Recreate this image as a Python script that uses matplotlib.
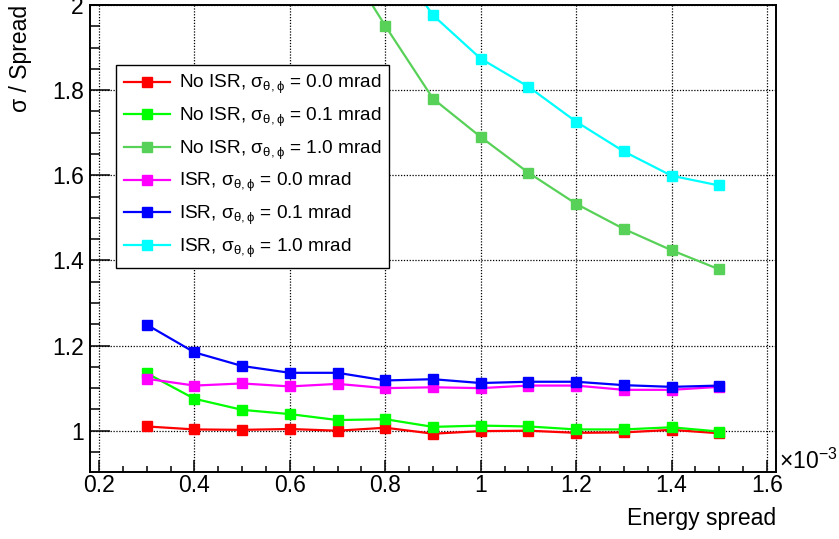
import matplotlib
matplotlib.use("Agg")
import matplotlib.pyplot as plt
from matplotlib.ticker import MultipleLocator, FuncFormatter

# -----------------------------
# Data (energy spread in units of 1e-3)
# -----------------------------
energy_spread = [0.3, 0.4, 0.5, 0.6, 0.7, 0.8, 0.9, 1.0, 1.1, 1.2, 1.3, 1.4, 1.5]

noisr_00 = [1.010, 1.003, 1.002, 1.004, 1.000, 1.007, 0.993, 0.999, 1.000, 0.995, 0.996, 1.002, 0.994]
noisr_01 = [1.135, 1.075, 1.049, 1.039, 1.025, 1.027, 1.009, 1.012, 1.010, 1.003, 1.003, 1.008, 0.998]
noisr_10 = [3.20, 2.75, 2.50, 2.30, 2.13, 1.951, 1.780, 1.690, 1.606, 1.533, 1.474, 1.424, 1.379]
isr_00 = [1.122, 1.106, 1.111, 1.104, 1.110, 1.100, 1.102, 1.100, 1.106, 1.106, 1.096, 1.096, 1.103]
isr_01 = [1.249, 1.184, 1.152, 1.136, 1.136, 1.118, 1.121, 1.112, 1.115, 1.115, 1.107, 1.103, 1.106]
isr_10 = [3.60, 3.05, 2.75, 2.50, 2.30, 2.136, 1.976, 1.874, 1.808, 1.726, 1.656, 1.599, 1.576]

series = [
    (noisr_00, "#ff0000", r"No ISR, σ$_{\mathregular{θ,ϕ}}$ = 0.0 mrad"),
    (noisr_01, "#00ff00", r"No ISR, σ$_{\mathregular{θ,ϕ}}$ = 0.1 mrad"),
    (noisr_10, "#57d157", r"No ISR, σ$_{\mathregular{θ,ϕ}}$ = 1.0 mrad"),
    (isr_00, "#ff00ff", r"ISR, σ$_{\mathregular{θ,ϕ}}$ = 0.0 mrad"),
    (isr_01, "#0000ff", r"ISR, σ$_{\mathregular{θ,ϕ}}$ = 0.1 mrad"),
    (isr_10, "#00ffff", r"ISR, σ$_{\mathregular{θ,ϕ}}$ = 1.0 mrad"),
]

# -----------------------------
# Style
# -----------------------------
plt.rcParams['font.family'] = ['Liberation Sans', 'DejaVu Sans']
plt.rcParams['mathtext.fontset'] = 'custom'
plt.rcParams['mathtext.rm'] = 'Liberation Sans'
plt.rcParams['mathtext.it'] = 'Liberation Sans'

W, H = 839, 539
fig = plt.figure(figsize=(W / 100, H / 100), dpi=100)
# frame: x 90..776, y 5..472 (pixels)
ax = fig.add_axes([90 / W, 1 - 472 / H, 686 / W, 467 / H])

for values, color, label in series:
    ax.plot(energy_spread, values, color=color, linewidth=1.6, marker='s',
            markersize=7.5, label=label)

ax.set_xlim(0.181, 1.619)
ax.set_ylim(0.903, 2.0)

ax.xaxis.set_major_locator(MultipleLocator(0.2))
ax.xaxis.set_minor_locator(MultipleLocator(0.05))
ax.yaxis.set_major_locator(MultipleLocator(0.2))
ax.yaxis.set_minor_locator(MultipleLocator(0.05))
fmt = FuncFormatter(lambda v, p: "%g" % round(v, 3))
ax.xaxis.set_major_formatter(fmt)
ax.yaxis.set_major_formatter(fmt)

ax.tick_params(which='both', direction='in', top=False, right=False,
               labelsize=16.5, width=1.1)
ax.tick_params(axis='x', which='major', length=8.6, pad=1.5)
ax.tick_params(axis='x', which='minor', length=4.3)
ax.tick_params(axis='y', which='major', length=14.4, pad=4.5)
ax.tick_params(axis='y', which='minor', length=7.2)

ax.grid(True, which='major', color='black', linestyle=(0, (1, 1.3)), linewidth=0.9)
for sp in ax.spines.values():
    sp.set_linewidth(1.4)
    sp.set_color('black')

ax.set_xlabel("Energy spread", fontsize=16.5, loc='right', va='baseline')
ax.xaxis.set_label_coords(1.0, (472 - 525) / 467)
ax.set_ylabel("σ / Spread", fontsize=16.5, loc='top', va='center')
ax.yaxis.set_label_coords((21 - 90) / 686, 1.0)

fig.text(779 / W, 1 - 469 / H, r"×10$^{\mathregular{-3}}$", fontsize=16.5,
         ha='left', va='baseline')

leg = ax.legend(loc='upper left', bbox_to_anchor=((116 - 90) / 686, (472 - 65) / 467),
                fontsize=13.7, frameon=True, fancybox=False, framealpha=1,
                edgecolor='black', handlelength=2.4, handletextpad=0.5,
                labelspacing=0.5, borderpad=0.42, borderaxespad=0)
leg.get_frame().set_linewidth(1.0)

fig.savefig("out.png", dpi=100)
